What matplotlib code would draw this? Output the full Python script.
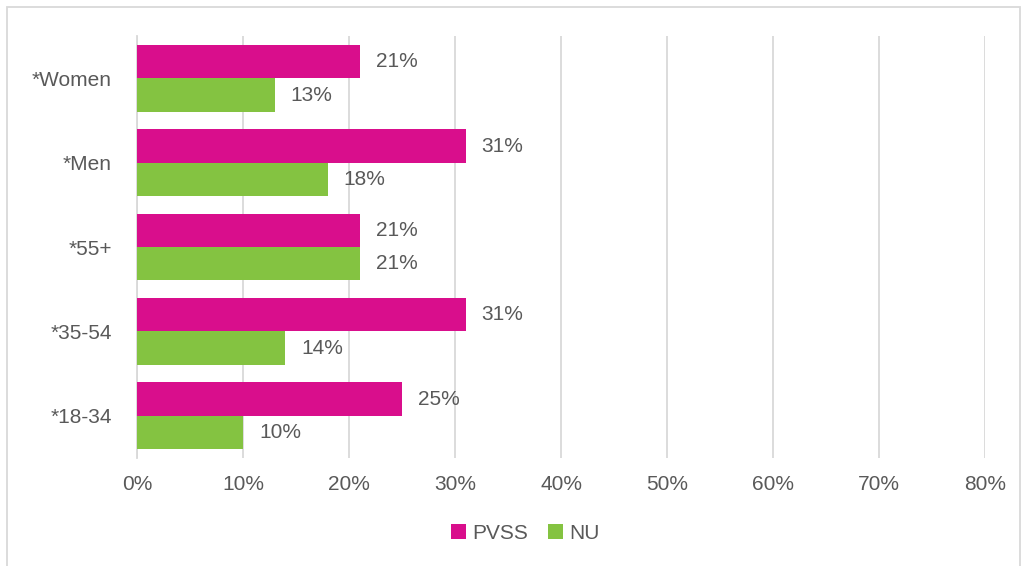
import matplotlib
matplotlib.use('Agg')
import matplotlib.pyplot as plt
import numpy as np
from matplotlib.patches import Rectangle

categories = ["*18-34", "*35-54", "*55+", "*Men", "*Women"]
pvss = [25, 31, 21, 31, 21]
nu = [10, 14, 21, 18, 13]
series_names = ["PVSS", "NU"]
colors = ["#D90E8C", "#84C341"]
txt = "#595959"

plt.rcParams['font.family'] = ['Liberation Sans', 'DejaVu Sans']

fig = plt.figure(figsize=(10.24, 5.66), dpi=100)
ax = fig.add_axes([0.1338, 0.191, 0.962 - 0.1338, 0.745])

y = np.arange(len(categories))
h = 0.395
b1 = ax.barh(y + h / 2, pvss, height=h, color=colors[0], label=series_names[0], zorder=3)
b2 = ax.barh(y - h / 2, nu, height=h, color=colors[1], label=series_names[1], zorder=3)

for bars, vals in ((b1, pvss), (b2, nu)):
    for rect, v in zip(bars, vals):
        ax.text(v + 1.5, rect.get_y() + rect.get_height() / 2, f"{v}%",
                va='center', ha='left', fontsize=15, color=txt)

ax.set_xlim(0, 80)
ax.set_ylim(-0.5, len(categories) - 0.5)
ax.set_xticks(np.arange(0, 81, 10))
ax.set_xticklabels([f"{t}%" for t in range(0, 81, 10)])
ax.set_yticks(y)
ax.set_yticklabels(categories)
ax.tick_params(axis='both', length=0, labelsize=15, colors=txt)
ax.tick_params(axis='x', pad=12)
ax.tick_params(axis='y', pad=18)
ax.grid(axis='x', color='#D9D9D9', linewidth=1.3, zorder=0)
for s in ['top', 'right', 'bottom']:
    ax.spines[s].set_visible(False)
ax.spines['left'].set_color('#D9D9D9')
ax.spines['left'].set_linewidth(1.3)

fig.legend(loc='center', bbox_to_anchor=(0.513, 0.058), ncol=2, frameon=False,
           fontsize=15, labelcolor=txt, handlelength=0.7, handleheight=0.7,
           handletextpad=0.3, columnspacing=1.0)

fig.patches.append(Rectangle((0.007, -0.01), 0.989, 0.998, transform=fig.transFigure,
                             fill=False, edgecolor='#D9D9D9', linewidth=1.3))

plt.savefig("out.png", dpi=100)
